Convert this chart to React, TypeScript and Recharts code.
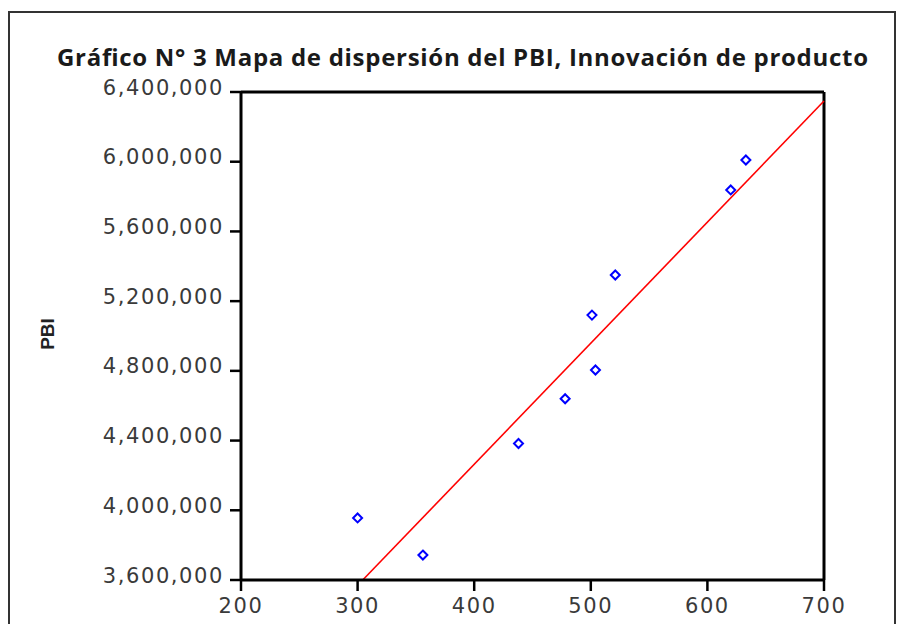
import { ScatterChart, Scatter, XAxis, YAxis, ReferenceLine } from 'recharts';

// Innovación de producto (eje X) vs PBI (eje Y)
const innovacion = [300, 356, 438, 478, 504, 501, 521, 620, 633];
const pbi = [3956000, 3743000, 4383000, 4640000, 4805000, 5120000, 5350000, 5838000, 6010000];

// recta de ajuste (extremos)
const fitLine = [
  { x: 304.4, y: 3600000 },
  { x: 700, y: 6348000 },
];

const xTicks = [200, 300, 400, 500, 600, 700];
const yTicks = [3600000, 4000000, 4400000, 4800000, 5200000, 5600000, 6000000, 6400000];

const TITLE = 'Gráfico N° 3 Mapa de dispersión del PBI, Innovación de producto';

const tickFont = {
  fontFamily: '"DejaVu Sans", sans-serif',
  fontSize: 21,
  letterSpacing: 1.6,
  fill: '#3a3a3a',
};

const points = innovacion.map((x, i) => ({ x, y: pbi[i] }));

const Diamond = (props: any) => {
  const { cx, cy } = props;
  const r = 4.5;
  return (
    <path
      d={`M${cx},${cy - r}L${cx + r},${cy}L${cx},${cy + r}L${cx - r},${cy}Z`}
      fill="none"
      stroke="#0000ff"
      strokeWidth={2}
    />
  );
};

const YTick = (props: any) => {
  const { x, y, payload } = props;
  return (
    <text x={x} y={y} dy={2.6} textAnchor="end" {...tickFont}>
      {Number(payload.value).toLocaleString('en-US')}
    </text>
  );
};

const XTick = (props: any) => {
  const { x, y, payload } = props;
  return (
    <text x={x} y={y} dy={20} textAnchor="middle" {...tickFont}>
      {payload.value}
    </text>
  );
};

const axisLine = { stroke: '#000', strokeWidth: 3 };
const tickLine = { stroke: '#000', strokeWidth: 2.5 };

export default function App() {
  return (
    <div
      style={{
        position: 'absolute',
        left: 0,
        top: 0,
        width: 902,
        height: 624,
        overflow: 'hidden',
        background: '#fff',
      }}
    >
      {/* marco exterior */}
      <div
        style={{
          position: 'absolute',
          left: 8,
          top: 11,
          width: 884,
          height: 660,
          border: '2px solid #333',
        }}
      />
      <div style={{ position: 'absolute', left: 0, top: 0 }}>
        <ScatterChart width={902} height={624} margin={{ top: 92, right: 78, bottom: 0, left: 0 }}>
          <XAxis
            type="number"
            dataKey="x"
            domain={[200, 700]}
            ticks={xTicks}
            allowDataOverflow
            height={44}
            axisLine={axisLine}
            tickLine={tickLine}
            tickSize={11}
            tickMargin={2}
            tick={<XTick />}
          />
          <YAxis
            type="number"
            dataKey="y"
            domain={[3600000, 6400000]}
            ticks={yTicks}
            allowDataOverflow
            width={241}
            axisLine={axisLine}
            tickLine={tickLine}
            tickSize={11}
            tickMargin={6}
            tick={<YTick />}
          />
          {/* lados superior y derecho del recuadro */}
          <ReferenceLine y={6400000} stroke="#000" strokeWidth={3} ifOverflow="visible" />
          <ReferenceLine x={700} stroke="#000" strokeWidth={3} ifOverflow="visible" />
          <ReferenceLine
            segment={fitLine}
            stroke="#ff0000"
            strokeWidth={1.6}
            ifOverflow="visible"
          />
          <Scatter data={points} shape={<Diamond />} isAnimationActive={false} />
        </ScatterChart>
      </div>
      <svg
        width={902}
        height={624}
        style={{ position: 'absolute', left: 0, top: 0, pointerEvents: 'none' }}
      >
        <text
          x={462.5}
          y={66}
          textAnchor="middle"
          textLength={811}
          lengthAdjust="spacing"
          fontFamily='"Open Sans", sans-serif'
          fontWeight={700}
          fontSize={24}
          fill="#1a1a1a"
        >
          {TITLE}
        </text>
        <text
          x={47}
          y={334}
          transform="rotate(-90, 47, 334)"
          textAnchor="middle"
          dominantBaseline="central"
          fontFamily='"Liberation Sans", Arial, sans-serif'
          fontWeight={700}
          fontSize={19}
          fill="#222"
        >
          PBI
        </text>
      </svg>
    </div>
  );
}
